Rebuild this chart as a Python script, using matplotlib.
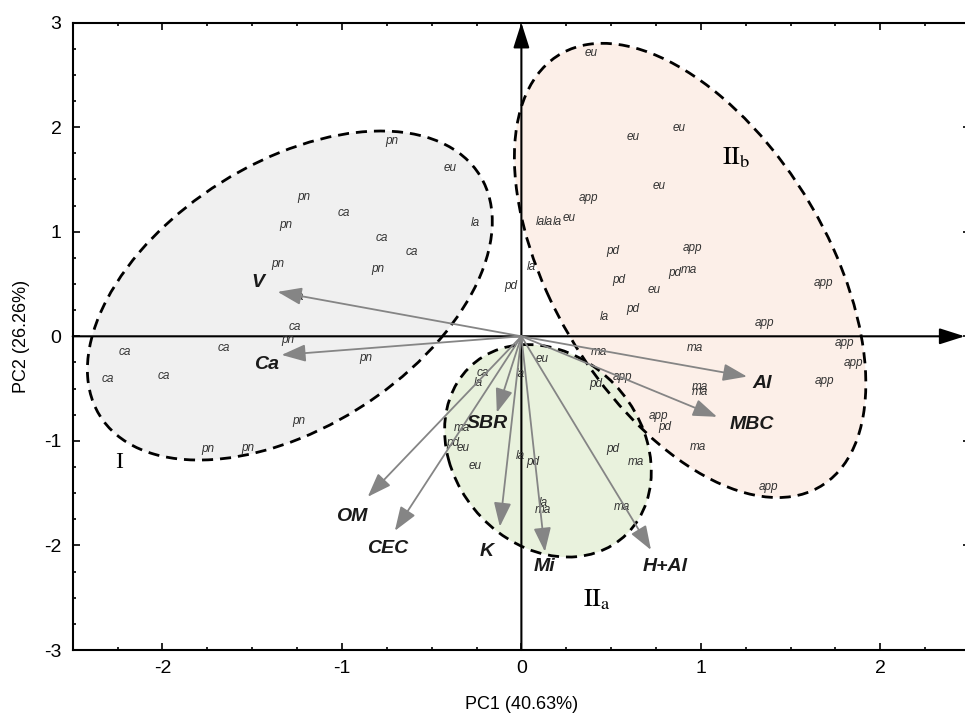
import matplotlib
matplotlib.use('Agg')
import matplotlib.pyplot as plt
from matplotlib.patches import Ellipse
from matplotlib.ticker import MultipleLocator

plt.rcParams['font.family'] = ['Liberation Sans', 'DejaVu Sans']
plt.rcParams['mathtext.fontset'] = 'stix'
plt.rcParams['axes.unicode_minus'] = False

# sample scores (PC1, PC2) and their labels
sample_x = [-0.724, -0.399, -1.213, -0.988, -1.313, -0.259, -0.780, -0.612, -1.356, -0.799,
            -1.245, -1.263, -1.301, -2.208, -1.658, -0.867, -2.305, -1.992, -1.241, -1.747,
            -1.524,
            -0.216, -0.241, -0.003, 0.113, -0.334, -0.380, -0.325, -0.259, -0.004, 0.062,
            0.507, 0.639, 0.122, 0.122, 0.562,
            0.432, 0.968, 1.800, 1.851, 0.562, 0.415, 0.992, 0.996, 1.688, 0.763, 0.800,
            0.981, 1.377,
            0.391, 0.620, 0.880, 0.769, 0.375, 0.103, 0.153, 0.200, 0.265, 0.512, 0.953,
            0.057, -0.059, 0.540, 0.856, 0.936, 0.739, 0.460, 0.618, 1.683, 1.354]
sample_y = [1.872, 1.614, 1.336, 1.177, 1.066, 1.082, 0.938, 0.804, 0.690, 0.642,
            0.380, 0.093, -0.034, -0.152, -0.108, -0.207, -0.410, -0.379, -0.809, -1.080,
            -1.071,
            -0.353, -0.449, -0.363, -0.219, -0.873, -1.023, -1.071, -1.240, -1.144, -1.204,
            -1.077, -1.204, -1.597, -1.660, -1.635,
            -0.146, -0.114, -0.066, -0.257, -0.385, -0.458, -0.487, -0.535, -0.427, -0.761,
            -0.864, -1.061, -1.437,
            2.714, 1.904, 1.990, 1.442, 1.327, 1.091, 1.097, 1.091, 1.129, 0.820, 0.849,
            0.661, 0.485, 0.539, 0.604, 0.635, 0.444, 0.189, 0.262, 0.508, 0.131]
sample_lab = ['pn', 'eu', 'pn', 'ca', 'pn', 'la', 'ca', 'ca', 'pn', 'pn',
              'ca', 'ca', 'pn', 'ca', 'ca', 'pn', 'ca', 'ca', 'pn', 'pn',
              'pn',
              'ca', 'la', 'la', 'eu', 'ma', 'pd', 'eu', 'eu', 'la', 'pd',
              'pd', 'ma', 'la', 'ma', 'ma',
              'ma', 'ma', 'app', 'app', 'app', 'pd', 'ma', 'ma', 'app', 'app', 'pd',
              'ma', 'app',
              'eu', 'eu', 'eu', 'eu', 'app', 'la', 'la', 'la', 'eu', 'pd', 'app',
              'la', 'pd', 'pd', 'pd', 'ma', 'eu', 'la', 'pd', 'app', 'app']

# variable loadings
load_names = ['V', 'Ca', 'Al', 'MBC', 'H+Al', 'Mi', 'K', 'SBR', 'OM', 'CEC']
load_x = [-1.358, -1.336, 1.257, 1.09, 0.722, 0.131, -0.12, -0.137, -0.856, -0.705]
load_y = [0.425, -0.178, -0.385, -0.77, -2.043, -2.06, -1.82, -0.73, -1.535, -1.86]
label_off = [(-20, 9), (-15, -10), (15, -7), (35, -8), (14, -17),
             (0, -15), (-13, -25), (-9, -11), (-16, -20), (-7, -18)]

# groups: name, centre, width, height, angle, fill
group_names = ['I', 'IIb', 'IIa']
group_cx = [-1.29, 0.94, 0.148]
group_cy = [0.39, 0.63, -1.095]
group_w = [3.39, 4.47, 2.05]
group_h = [1.87, 1.65, 1.12]
group_ang = [63.5, -75.3, -81.0]
group_col = ['#f0f0f0', '#fcefe8', '#e9f2dd']

fig = plt.figure(figsize=(9.65, 7.22), dpi=100)
ax = fig.add_axes([0.0753, 0.0997, 0.930, 0.869])

for i in range(3):
    ax.add_patch(Ellipse((group_cx[i], group_cy[i]), group_w[i], group_h[i], angle=group_ang[i],
                         facecolor=group_col[i], edgecolor='none', zorder=1))
for i in range(3):
    ax.add_patch(Ellipse((group_cx[i], group_cy[i]), group_w[i], group_h[i], angle=group_ang[i],
                         facecolor='none', edgecolor='black', lw=2, ls=(0, (4, 2.5)), zorder=2))

# axis arrows through the origin
ax.annotate('', xy=(2.47, 0), xytext=(-2.5, 0),
            arrowprops=dict(arrowstyle='-|>,head_length=1.1,head_width=0.35', color='black',
                            lw=1.5, shrinkA=0, shrinkB=0, mutation_scale=14), zorder=3)
ax.annotate('', xy=(0, 3), xytext=(0, -3),
            arrowprops=dict(arrowstyle='-|>,head_length=1.1,head_width=0.35', color='black',
                            lw=1.5, shrinkA=0, shrinkB=0, mutation_scale=14), zorder=3)

for x, y, s in zip(sample_x, sample_y, sample_lab):
    ax.text(x, y, s, fontsize=8.5, style='italic', color='#333333',
            ha='center', va='center', zorder=4)

for name, x, y, off in zip(load_names, load_x, load_y, label_off):
    ax.annotate('', xy=(x, y), xytext=(0, 0),
                arrowprops=dict(arrowstyle='-|>,head_length=1.05,head_width=0.38', color='#858585',
                                lw=1.3, shrinkA=0, shrinkB=0, mutation_scale=14), zorder=5)
    ax.annotate(name, xy=(x, y), xytext=off, textcoords='offset pixels',
                fontsize=14, fontweight='bold', style='italic', color='#1a1a1a',
                ha='center', va='center', zorder=6)

ax.text(-2.24, -1.21, 'I', fontsize=17, family='Liberation Serif', ha='center', va='center')
ax.text(1.2, 1.71, r'$\mathrm{II_b}$', fontsize=19, ha='center', va='center')
ax.text(0.42, -2.52, r'$\mathrm{II_a}$', fontsize=19, ha='center', va='center')

ax.set_xlim(-2.5, 2.5)
ax.set_ylim(-3, 3)
ax.xaxis.set_major_locator(MultipleLocator(1))
ax.xaxis.set_minor_locator(MultipleLocator(0.25))
ax.yaxis.set_major_locator(MultipleLocator(1))
ax.yaxis.set_minor_locator(MultipleLocator(0.25))
ax.tick_params(which='both', direction='in', top=True, right=True, width=1.2)
ax.tick_params(which='major', length=5, labelsize=14)
ax.tick_params(which='minor', length=2.5)
ax.tick_params(axis='x', pad=7)
ax.tick_params(axis='y', pad=8)
for sp in ax.spines.values():
    sp.set_linewidth(1.5)

ax.set_xlabel('PC1 (40.63%)', fontsize=13, labelpad=14)
ax.set_ylabel('PC2 (26.26%)', fontsize=13, labelpad=10)

fig.savefig('out.png', dpi=100)
